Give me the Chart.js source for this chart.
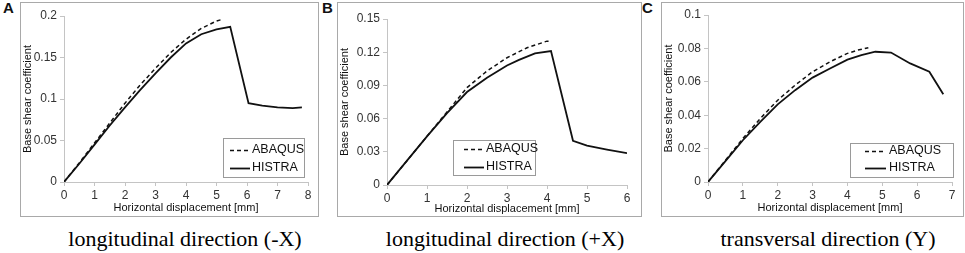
<!DOCTYPE html>
<html>
<head>
<meta charset="utf-8">
<script src="https://cdn.jsdelivr.net/npm/chart.js@4"></script>
<style>
  body { margin: 0; background: #fff; width: 965px; height: 253px; position: relative; overflow: hidden; }
  .box { position: absolute; top: 2px; height: 213px; border: 1px solid #a9a9a9; }
  .box canvas { display: block; }
  .letter { position: absolute; top: 0px; font: bold 15px "Liberation Sans", Arial, sans-serif; color: #111; line-height: 15px; }
  .caption { position: absolute; top: 228px; width: 300px; margin-left: -150px; text-align: center;
             font: 22px "Liberation Serif", "Times New Roman", serif; line-height: 22px; color: #000; white-space: nowrap; }
</style>
</head>
<body>
<div class="letter" style="left:3px">A</div>
<div class="letter" style="left:322px">B</div>
<div class="letter" style="left:642px">C</div>

<div class="box" style="left:20px;width:297px"><canvas id="chartA" width="297" height="213"></canvas></div>
<div class="box" style="left:337px;width:303px"><canvas id="chartB" width="303" height="213"></canvas></div>
<div class="box" style="left:661px;width:301px"><canvas id="chartC" width="301" height="213"></canvas></div>

<div class="caption" style="left:185px">longitudinal direction (-X)</div>
<div class="caption" style="left:505px">longitudinal direction (+X)</div>
<div class="caption" style="left:828px">transversal direction (Y)</div>

<script>
  "use strict";

  // ---- data (x: mm, y: base shear coefficient) ----
  const seriesNames = ["ABAQUS", "HISTRA"];
  const xTitle = "Horizontal displacement [mm]";
  const yTitle = "Base shear coefficient";

  // A: longitudinal direction (-X)
  const aAbaqusX = [0, 0.5, 1, 1.5, 2, 2.5, 3, 3.5, 4, 4.5, 5, 5.2];
  const aAbaqusY = [0, 0.023, 0.047, 0.071, 0.095, 0.117, 0.137, 0.156, 0.172, 0.185, 0.194, 0.196];
  const aHistraX = [0, 0.5, 1, 1.5, 2, 2.5, 3, 3.5, 4, 4.5, 5, 5.45, 6.05, 6.5, 7, 7.5, 7.8];
  const aHistraY = [0, 0.022, 0.045, 0.068, 0.09, 0.111, 0.131, 0.15, 0.167, 0.178, 0.184, 0.187, 0.095, 0.092, 0.09, 0.089, 0.09];

  // B: longitudinal direction (+X)
  const bAbaqusX = [0, 0.5, 1, 1.5, 2, 2.5, 3, 3.5, 4, 4.05];
  const bAbaqusY = [0, 0.022, 0.044, 0.066, 0.088, 0.103, 0.115, 0.124, 0.13, 0.13];
  const bHistraX = [0, 0.5, 1, 1.5, 2, 2.5, 3, 3.3, 3.7, 4.1, 4.65, 5, 5.5, 6];
  const bHistraY = [0, 0.022, 0.044, 0.065, 0.084, 0.097, 0.108, 0.113, 0.119, 0.121, 0.04, 0.0355, 0.032, 0.0288];

  // C: transversal direction (Y)
  const cAbaqusX = [0, 0.5, 1, 1.5, 2, 2.5, 3, 3.5, 4, 4.3, 4.6];
  const cAbaqusY = [0, 0.013, 0.026, 0.038, 0.049, 0.058, 0.066, 0.072, 0.077, 0.079, 0.0804];
  const cHistraX = [0, 0.5, 1, 1.5, 2, 2.5, 3, 3.5, 4, 4.4, 4.8, 5.25, 5.8, 6.35, 6.75];
  const cHistraY = [0, 0.0125, 0.025, 0.036, 0.0465, 0.055, 0.0625, 0.068, 0.0733, 0.076, 0.078, 0.0775, 0.071, 0.066, 0.0525];

  // axis ranges / tick steps
  const aAxis = { xMax: 8, xStep: 1, yMax: 0.2, yStep: 0.05 };
  const bAxis = { xMax: 6, xStep: 1, yMax: 0.15, yStep: 0.03 };
  const cAxis = { xMax: 7, xStep: 1, yMax: 0.1, yStep: 0.02 };

  const FONT = "'Liberation Sans', Arial, sans-serif";
  const AXIS_GRAY = "#c4c4c4";
  const TICK_TEXT = "#333";

  function pts(xs, ys) {
    return xs.map((x, i) => ({ x: x, y: ys[i] }));
  }

  // Legend drawn inside the plot box, Excel-style.
  const insideLegend = {
    id: "insideLegend",
    afterDraw(chart, args, opts) {
      const ctx = chart.ctx;
      ctx.save();
      ctx.strokeStyle = "#9a9a9a";
      ctx.lineWidth = 1;
      ctx.strokeRect(opts.box[0] + 0.5, opts.box[1] + 0.5, opts.box[2], opts.box[3]);
      ctx.font = "12.5px " + FONT;
      ctx.textBaseline = "middle";
      ctx.fillStyle = "#111";
      chart.data.datasets.forEach((ds, i) => {
        const y = opts.rows[i];
        ctx.beginPath();
        ctx.setLineDash(ds.borderDash || []);
        ctx.strokeStyle = ds.borderColor;
        ctx.lineWidth = ds.borderWidth;
        ctx.moveTo(opts.line[0], y + 0.5);
        ctx.lineTo(opts.line[1], y + 0.5);
        ctx.stroke();
        ctx.setLineDash([]);
        ctx.fillText(ds.label, opts.textX, y);
      });
      ctx.restore();
    },
  };

  function makeChart(id, abaqus, histra, axis, lay) {
    return new Chart(document.getElementById(id), {
      type: "line",
      data: {
        datasets: [
          { label: seriesNames[0], data: abaqus, borderColor: "#111", borderWidth: 1.5,
            borderDash: [4, 3], pointRadius: 0, tension: 0, fill: false },
          { label: seriesNames[1], data: histra, borderColor: "#111", borderWidth: 1.8,
            pointRadius: 0, tension: 0, fill: false },
        ],
      },
      options: {
        responsive: false,
        animation: false,
        events: [],
        layout: { padding: { top: lay.top, right: lay.right, left: 0, bottom: 0 } },
        scales: {
          x: {
            type: "linear",
            min: 0,
            max: axis.xMax,
            border: { color: AXIS_GRAY },
            grid: { drawOnChartArea: false, drawTicks: true, tickLength: 4, color: AXIS_GRAY },
            ticks: { stepSize: axis.xStep, color: TICK_TEXT, font: { family: FONT, size: 12 }, padding: 2, maxRotation: 0 },
            title: { display: true, text: xTitle, color: "#111", font: { family: FONT, size: 11 }, padding: { top: 0, bottom: lay.xtPad } },
            afterFit(scale) { scale.height = lay.xh; },
          },
          y: {
            min: 0,
            max: axis.yMax,
            border: { color: AXIS_GRAY },
            grid: { drawOnChartArea: false, drawTicks: true, tickLength: 4, color: AXIS_GRAY },
            ticks: {
              stepSize: axis.yStep,
              color: TICK_TEXT,
              font: { family: FONT, size: 12 },
              padding: 3,
              callback: (v) => String(Math.round(v * 1000) / 1000),
            },
            title: { display: true, text: yTitle, color: "#111", font: { family: FONT, size: 11 }, padding: { top: 0, bottom: 0 } },
            afterFit(scale) { scale.width = lay.yw; },
          },
        },
        plugins: {
          legend: { display: false },
          tooltip: { enabled: false },
          insideLegend: lay.legend,
        },
      },
      plugins: [insideLegend],
    });
  }

  makeChart("chartA", pts(aAbaqusX, aAbaqusY), pts(aHistraX, aHistraY), aAxis, {
    top: 13, right: 10, yw: 43, xh: 34, xtPad: 1,
    legend: { box: [202, 135, 81, 39], rows: [147, 165], line: [209, 229], textX: 231 },
  });

  makeChart("chartB", pts(bAbaqusX, bAbaqusY), pts(bHistraX, bHistraY), bAxis, {
    top: 16, right: 14, yw: 49, xh: 31, xtPad: 0,
    legend: { box: [115, 137, 82, 35], rows: [146, 164], line: [126, 146], textX: 148 },
  });

  makeChart("chartC", pts(cAbaqusX, cAbaqusY), pts(cHistraX, cHistraY), cAxis, {
    top: 12, right: 11, yw: 46, xh: 34, xtPad: 1,
    legend: { box: [188, 140, 103, 34], rows: [148, 165], line: [203, 224], textX: 227 },
  });
</script>
</body>
</html>
